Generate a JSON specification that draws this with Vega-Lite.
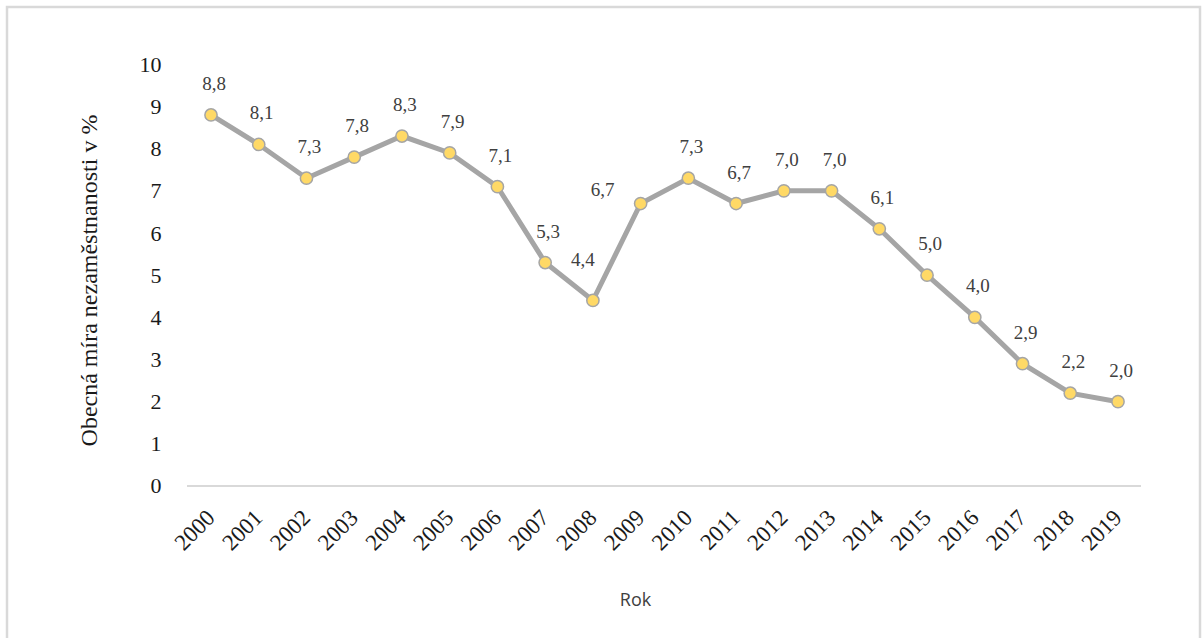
{
  "$schema": "https://vega.github.io/schema/vega-lite/v6.json",
  "width": 1193,
  "height": 633,
  "autosize": {"type": "none"},
  "padding": {"left": 7, "top": 7, "right": 3, "bottom": -2},
  "background": "white",
  "config": {
    "locale": {"number": {"decimal": ",", "thousands": " ", "grouping": [3], "currency": ["", " Kč"]}},
    "view": {"stroke": "#d9d9d9", "strokeWidth": 2.5},
    "font": "Liberation Serif"
  },
  "data": {
    "values": [
      {"year": "2000", "rate": 8.8},
      {"year": "2001", "rate": 8.1},
      {"year": "2002", "rate": 7.3},
      {"year": "2003", "rate": 7.8},
      {"year": "2004", "rate": 8.3},
      {"year": "2005", "rate": 7.9},
      {"year": "2006", "rate": 7.1},
      {"year": "2007", "rate": 5.3},
      {"year": "2008", "rate": 4.4},
      {"year": "2009", "rate": 6.7},
      {"year": "2010", "rate": 7.3},
      {"year": "2011", "rate": 6.7},
      {"year": "2012", "rate": 7.0},
      {"year": "2013", "rate": 7.0},
      {"year": "2014", "rate": 6.1},
      {"year": "2015", "rate": 5.0},
      {"year": "2016", "rate": 4.0},
      {"year": "2017", "rate": 2.9},
      {"year": "2018", "rate": 2.2},
      {"year": "2019", "rate": 2.0}
    ]
  },
  "encoding": {
    "x": {
      "field": "year",
      "type": "ordinal",
      "scale": {"type": "point", "padding": 0, "range": [204, 1111]},
      "axis": {
        "title": "Rok",
        "orient": "bottom",
        "offset": -154,
        "domain": false,
        "ticks": false,
        "grid": false,
        "labelAngle": -45,
        "labelPadding": 20,
        "labelOffset": -8,
        "labelFontSize": 23,
        "labelFont": "Liberation Serif",
        "labelColor": "#1a1a1a",
        "titleFont": "Open Sans",
        "titleFontSize": 18,
        "titleFontWeight": "normal",
        "titleColor": "#404040",
        "titleX": 628,
        "titleY": 114,
        "titleBaseline": "middle",
        "titleAlign": "center"
      }
    },
    "y": {
      "field": "rate",
      "type": "quantitative",
      "scale": {"domain": [-3.653, 11.361], "nice": false, "zero": false},
      "axis": {
        "title": "Obecná míra nezaměstnanosti v %",
        "values": [0, 1, 2, 3, 4, 5, 6, 7, 8, 9, 10],
        "domain": false,
        "ticks": false,
        "tickSize": 0,
        "grid": false,
        "labelPadding": -154,
        "labelFontSize": 22,
        "labelFont": "Liberation Serif",
        "labelColor": "#1a1a1a",
        "labelBaseline": "middle",
        "titleFont": "Liberation Serif",
        "titleFontSize": 24,
        "titleFontWeight": "normal",
        "titleColor": "#1a1a1a",
        "titleX": 82,
        "titleY": 273,
        "titleAngle": -90,
        "titleBaseline": "middle",
        "titleAlign": "center"
      }
    }
  },
  "layer": [
    {
      "mark": {"type": "rule", "color": "#d9d9d9", "strokeWidth": 1.5, "xOffset": -24, "x2Offset": 23},
      "encoding": {"x": {"datum": "2000"}, "x2": {"datum": "2019"}, "y": {"datum": 0}}
    },
    {
      "mark": {"type": "line", "color": "#a5a5a5", "strokeWidth": 5}
    },
    {
      "mark": {"type": "circle", "fill": "#ffd966", "stroke": "#a5a5a5", "strokeWidth": 1.5, "size": 150, "opacity": 1}
    },
    {
      "transform": [{"filter": "datum.year != '2009' && datum.year != '2008'"}],
      "mark": {"type": "text", "dx": 3, "dy": -31, "fontSize": 19, "color": "#404040", "font": "Liberation Serif"},
      "encoding": {"text": {"field": "rate", "type": "quantitative", "format": ".1f"}}
    },
    {
      "transform": [{"filter": "datum.year == '2009'"}],
      "mark": {"type": "text", "dx": -38, "dy": -14, "fontSize": 19, "color": "#404040", "font": "Liberation Serif"},
      "encoding": {"text": {"field": "rate", "type": "quantitative", "format": ".1f"}}
    },
    {
      "transform": [{"filter": "datum.year == '2008'"}],
      "mark": {"type": "text", "dx": -10, "dy": -40, "fontSize": 19, "color": "#404040", "font": "Liberation Serif"},
      "encoding": {"text": {"field": "rate", "type": "quantitative", "format": ".1f"}}
    }
  ]
}
